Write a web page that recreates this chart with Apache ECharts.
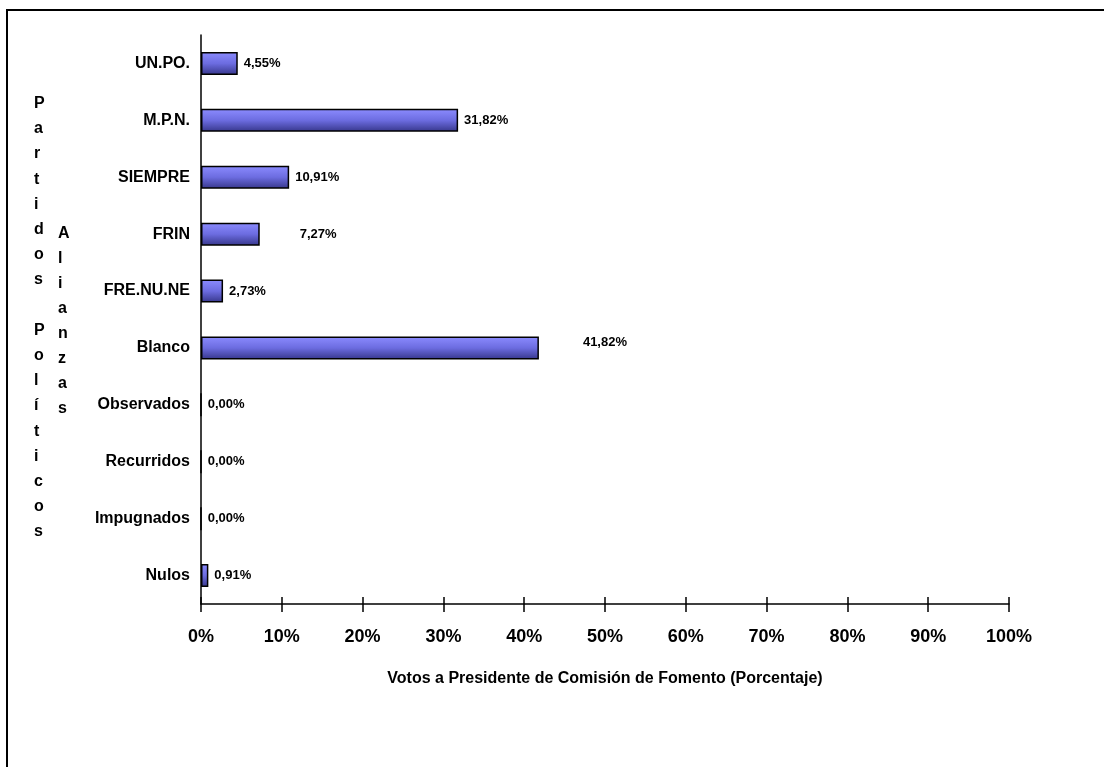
<!DOCTYPE html>
<html>
<head>
<meta charset="utf-8">
<script src="https://cdn.jsdelivr.net/npm/echarts@6/dist/echarts.min.js"></script>
<style>
html,body{margin:0;padding:0;background:#fff;}
#chart{width:1104px;height:767px;}
</style>
</head>
<body>
<div id="chart"></div>
<script>
const categories = ['UN.PO.', 'M.P.N.', 'SIEMPRE', 'FRIN', 'FRE.NU.NE', 'Blanco', 'Observados', 'Recurridos', 'Impugnados', 'Nulos'];
const percentages = [4.55, 31.82, 10.91, 7.27, 2.73, 41.82, 0.00, 0.00, 0.00, 0.91];
const xTicks = [0, 10, 20, 30, 40, 50, 60, 70, 80, 90, 100];
const xAxisTitle = 'Votos a Presidente de Comisión de Fomento (Porcentaje)';
const yTitle1 = 'Partidos Políticos';
const yTitle2 = 'Alianzas';

// label placement tweaks (styling, not data)
const labelShift = { 'FRIN': [34, 0], 'Blanco': [38, -6] };

const FONT = '"Liberation Sans", Arial, sans-serif';
const barColor = {
  type: 'linear', x: 0, y: 0, x2: 0, y2: 1,
  colorStops: [
    { offset: 0, color: '#8c8cff' },
    { offset: 0.5, color: '#6c6ce0' },
    { offset: 1, color: '#36368a' }
  ]
};

const seriesData = percentages.map((v, i) => {
  const item = { value: v };
  const s = labelShift[categories[i]];
  if (s) item.label = { offset: s };
  return item;
});

function vertical(str) {
  return str.split('').map(c => c === ' ' ? '' : c).join('\n');
}

const axisBase = { type: 'value', min: 0, max: 100, interval: 10, gridIndex: 0, position: 'bottom' };

const chart = echarts.init(document.getElementById('chart'), null, { renderer: 'canvas' });
chart.setOption({
  animation: false,
  backgroundColor: '#ffffff',
  textStyle: { fontFamily: FONT },
  grid: { left: 201, right: 95, top: 35, bottom: 163, containLabel: false },
  xAxis: [
    Object.assign({}, axisBase, {
      name: xAxisTitle,
      nameLocation: 'middle',
      nameGap: 67,
      nameTextStyle: { fontFamily: FONT, fontWeight: 'bold', fontSize: 16, color: '#000' },
      axisLine: { show: true, lineStyle: { color: '#000', width: 1.5 } },
      axisTick: { show: true, length: 8, lineStyle: { color: '#000', width: 1.5 } },
      splitLine: { show: false },
      axisLabel: {
        margin: 24,
        fontFamily: FONT, fontWeight: 'bold', fontSize: 18, color: '#000',
        formatter: v => xTicks.indexOf(v) >= 0 ? v + '%' : ''
      }
    }),
    Object.assign({}, axisBase, {
      axisLine: { show: false },
      axisTick: { show: true, inside: true, length: 7, lineStyle: { color: '#000', width: 1.5 } },
      splitLine: { show: false },
      axisLabel: { show: false }
    })
  ],
  yAxis: {
    type: 'category',
    data: categories,
    inverse: true,
    axisLine: { show: true, lineStyle: { color: '#000', width: 1.5 } },
    axisTick: { show: false },
    splitLine: { show: false },
    axisLabel: {
      margin: 11,
      fontFamily: FONT, fontWeight: 'bold', fontSize: 16, color: '#000'
    }
  },
  series: [{
    type: 'bar',
    xAxisIndex: 0,
    data: seriesData,
    barWidth: 23,
    itemStyle: { color: barColor, borderColor: '#000', borderWidth: 1.5 },
    label: {
      show: true,
      position: 'right',
      distance: 6,
      fontFamily: FONT, fontWeight: 'bold', fontSize: 13, color: '#000',
      formatter: p => p.value.toFixed(2).replace('.', ',') + '%'
    }
  }],
  graphic: [
    {
      type: 'rect', z: -10, silent: true,
      shape: { x: 7, y: 10, width: 1300, height: 1000 },
      style: { fill: 'none', stroke: '#000', lineWidth: 2 }
    },
    {
      type: 'text', left: 34, top: 91,
      style: {
        text: vertical(yTitle1), fontFamily: FONT, fontWeight: 'bold', fontSize: 16,
        lineHeight: 25.2, fill: '#000', align: 'center', width: 16
      }
    },
    {
      type: 'text', left: 58, top: 221,
      style: {
        text: vertical(yTitle2), fontFamily: FONT, fontWeight: 'bold', fontSize: 16,
        lineHeight: 25, fill: '#000', align: 'center', width: 16
      }
    }
  ]
});
</script>
</body>
</html>
